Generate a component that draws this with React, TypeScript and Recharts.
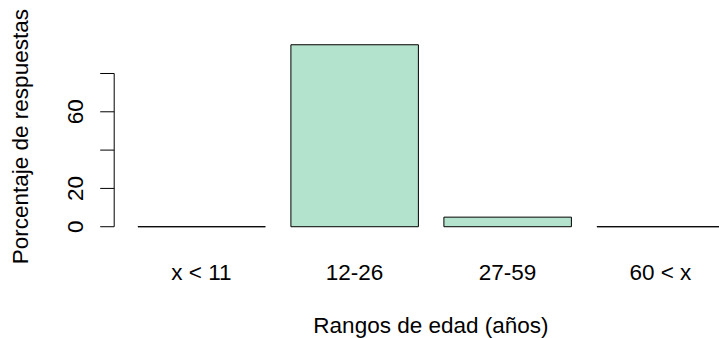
import React from 'react'
import { BarChart, Bar, XAxis, YAxis, ReferenceLine } from 'recharts'

const categories = ['x < 11', '12-26', '27-59', '60 < x']
const percentages = [0, 95, 5, 0]
const yTicks = [0, 20, 40, 60, 80]
const yTickLabels = ['0', '20', '', '60', '']

const data = categories.map((name, i) => ({ name, value: percentages[i] }))

const FONT = '"Liberation Sans", Arial, sans-serif'
const FONT_SIZE = 22.5
const PLOT_LEFT = 114.2
const TICK_LEN = 14

// zero-height bars still get their outline, like base R's rect()
function OutlinedBar(props: any) {
  const { x, y, width, height } = props
  return (
    <path
      d={`M${x},${y}h${width}v${height}h${-width}Z`}
      fill="#B3E2CD"
      stroke="#000"
      strokeWidth={1}
    />
  )
}

function YTick(props: any) {
  const { y, payload } = props
  const label = yTickLabels[yTicks.indexOf(payload.value)]
  const bx = 83
  return (
    <g>
      <line x1={PLOT_LEFT - TICK_LEN} y1={y} x2={PLOT_LEFT} y2={y} stroke="#000" />
      {label ? (
        <text
          x={bx}
          y={y}
          transform={`rotate(-90, ${bx}, ${y})`}
          textAnchor="middle"
          fontFamily={FONT}
          fontSize={FONT_SIZE}
          fill="#000"
        >
          {label}
        </text>
      ) : null}
    </g>
  )
}

function XTick(props: any) {
  const { x, y, payload } = props
  return (
    <text x={x} y={y + 44} textAnchor="middle" fontFamily={FONT} fontSize={FONT_SIZE} fill="#000">
      {payload.value}
    </text>
  )
}

function YTitle(props: any) {
  const { viewBox } = props
  const cy = viewBox.y + viewBox.height / 2
  const bx = 28
  return (
    <text
      x={bx}
      y={cy}
      transform={`rotate(-90, ${bx}, ${cy})`}
      textAnchor="middle"
      fontFamily={FONT}
      fontSize={FONT_SIZE}
      fill="#000"
    >
      Porcentaje de respuestas
    </text>
  )
}

export default function App() {
  return (
    <div
      style={{
        position: 'absolute',
        left: 0,
        top: 0,
        width: 719,
        height: 338,
        overflow: 'hidden',
        background: '#fff',
      }}
    >
      <BarChart
        width={760}
        height={338}
        data={data}
        margin={{ top: 37.4, right: 12.3, bottom: 0, left: 0 }}
        barSize={127.5}
      >
        <XAxis
          dataKey="name"
          height={102.1}
          padding={{ left: 10.7, right: 10.8 }}
          axisLine={false}
          tickLine={false}
          tickSize={0}
          tickMargin={0}
          tick={<XTick />}
          interval={0}
          label={{
            value: 'Rangos de edad (años)',
            position: 'insideBottom',
            offset: 5,
            style: { fontFamily: FONT, fontSize: FONT_SIZE, fill: '#000' },
          }}
        />
        <YAxis
          type="number"
          width={PLOT_LEFT}
          domain={[-4.788, 98.838]}
          ticks={yTicks}
          axisLine={false}
          tickLine={false}
          tick={<YTick />}
          label={{ content: <YTitle /> }}
        />
        <ReferenceLine
          segment={[
            { x: categories[0], y: yTicks[0] },
            { x: categories[0], y: yTicks[yTicks.length - 1] },
          ]}
          shape={(p: any) => (
            <line x1={PLOT_LEFT} y1={p.y1} x2={PLOT_LEFT} y2={p.y2} stroke="#000" />
          )}
        />
        <Bar dataKey="value" shape={<OutlinedBar />} isAnimationActive={false} />
      </BarChart>
    </div>
  )
}
